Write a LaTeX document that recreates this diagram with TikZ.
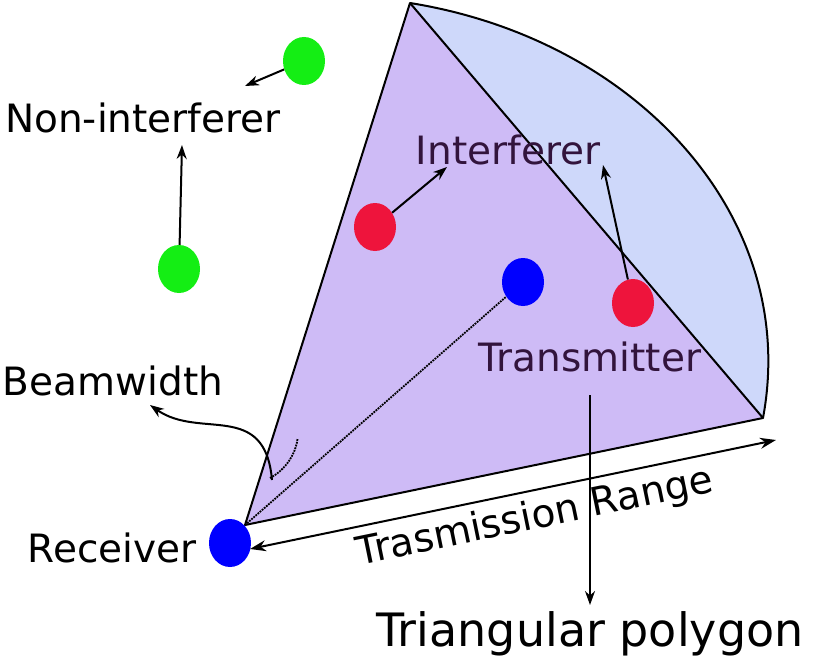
\documentclass[tikz,border=0pt]{standalone}
\usepackage{fontspec}
\setmainfont{DejaVu Sans}
\usetikzlibrary{arrows.meta,shapes.geometric}
\begin{document}
\begin{tikzpicture}[x=1pt,y=-1pt,
  lbl/.style={font=\fontsize{39}{42}\selectfont},
  dot/.style={ellipse,minimum width=42pt,minimum height=48pt,inner sep=0pt},
  arr/.style={-{Stealth[length=14pt,width=10pt]},line width=2pt}]
\useasboundingbox (0,0) rectangle (830,666);
\coordinate (A) at (245,525);
\coordinate (T) at (410,3);
\coordinate (R) at (763,418);
\fill[fill={rgb,255:red,206;green,216;blue,250}] (T) .. controls (640,40) and (800,220) .. (R) -- cycle;
\draw[line width=2pt] (T) .. controls (640,40) and (800,220) .. (R);
\fill[fill={rgb,255:red,206;green,187;blue,246}] (A) -- (T) -- (R) -- cycle;
\draw[line width=2pt,line join=round] (A) -- (T) -- (R) -- cycle;
\draw[densely dotted,line width=1.8pt] (270,478) arc[start angle=62,end angle=8,radius=53];
\node[dot,fill=blue] (rx) at (230,543) {};
\node[dot,fill=blue] (tx) at (523,282) {};
\node[dot,fill={rgb,255:red,238;green,20;blue,60}] (i1) at (375,227) {};
\node[dot,fill={rgb,255:red,238;green,20;blue,60}] (i2) at (633,303) {};
\node[dot,fill={rgb,255:red,20;green,238;blue,20}] (g1) at (304,61) {};
\node[dot,fill={rgb,255:red,20;green,238;blue,20}] (g2) at (179,269) {};
\draw[densely dotted,line width=1.8pt] (A) -- (tx);
\node[lbl] (ni) at (143,118) {Non-interferer};
\node[lbl,text={rgb,255:red,50;green,20;blue,60}] (int) at (508,150) {Interferer};
\node[lbl,text={rgb,255:red,50;green,20;blue,60}] (trl) at (590,357) {Transmitter};
\node[lbl] (bw) at (113,381) {Beamwidth};
\node[lbl] (rl) at (112,548) {Receiver};
\node[font=\fontsize{46}{50}\selectfont] (tp) at (590,634) {Triangular polygon};
\node[lbl,rotate=11.6] (trr) at (535,518) {Trasmission Range};
\draw[arr] (g1) -- (245,86);
\draw[arr] (g2) -- (182,145);
\draw[arr] (i1) -- (447,167);
\draw[arr] (i2) -- (603,165);
\draw[arr] (590,395) -- (590,605);
\draw[arr] (272,480) .. controls (265,400) and (200,440) .. (150,405);
\draw[{Stealth[length=16pt,width=11pt]}-{Stealth[length=16pt,width=11pt]},line width=2pt] (250,549) -- (776,440);
\end{tikzpicture}
\end{document}
